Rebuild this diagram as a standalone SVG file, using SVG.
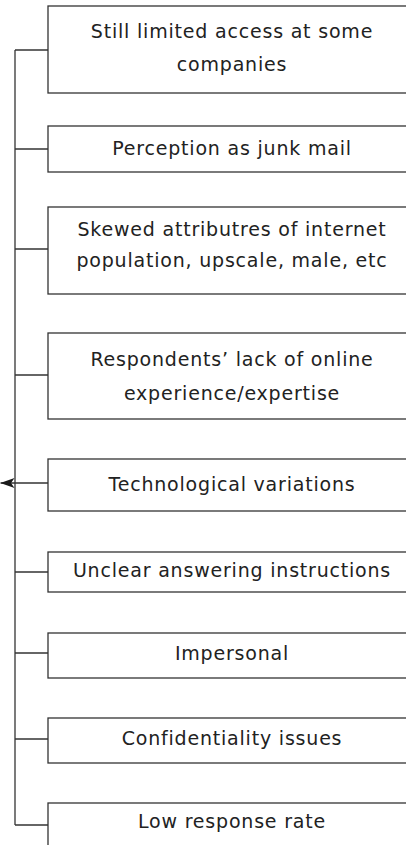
<svg xmlns="http://www.w3.org/2000/svg" width="406" height="845" viewBox="0 0 406 845">
  <style>
    .box rect { fill: #ffffff; stroke: #333333; stroke-width: 1.3; }
    .box text { font-family: "DejaVu Sans", "Verdana", sans-serif; font-size: 19px; letter-spacing: 0.8px; fill: #222222; text-anchor: middle; }
    .link { fill: none; stroke: #333333; stroke-width: 1.3; }
  </style>
  <defs>
    <marker id="arrowhead" viewBox="0 0 14 10" refX="14" refY="5" markerWidth="14" markerHeight="10" markerUnits="userSpaceOnUse" orient="auto">
      <path d="M0,0 L14,5 L0,10 L3.5,5 Z" fill="#1a1a1a"/>
    </marker>
  </defs>

  <!-- connectors: vertical trunk with branches into each box -->
  <g id="connectors">
    <line class="link" x1="15" y1="50" x2="15" y2="825"/>
    <line class="link" x1="15" y1="50" x2="48" y2="50"/>
    <line class="link" x1="15" y1="149" x2="48" y2="149"/>
    <line class="link" x1="15" y1="249" x2="48" y2="249"/>
    <line class="link" x1="15" y1="375" x2="48" y2="375"/>
    <line class="link" x1="48" y1="483" x2="0.5" y2="483" marker-end="url(#arrowhead)"/>
    <line class="link" x1="15" y1="572" x2="48" y2="572"/>
    <line class="link" x1="15" y1="653" x2="48" y2="653"/>
    <line class="link" x1="15" y1="739" x2="48" y2="739"/>
    <line class="link" x1="15" y1="825" x2="48" y2="825"/>
  </g>

  <g id="limited-access" class="box">
    <rect x="48" y="6" width="372" height="87"/>
    <text x="232" y="38">Still limited access at some</text>
    <text x="232" y="71">companies</text>
  </g>
  <g id="junk-mail" class="box">
    <rect x="48" y="126" width="372" height="46"/>
    <text x="232" y="155">Perception as junk mail</text>
  </g>
  <g id="skewed-attributes" class="box">
    <rect x="48" y="207" width="372" height="87"/>
    <text x="232" y="236">Skewed attributres of internet</text>
    <text x="232" y="267">population, upscale, male, etc</text>
  </g>
  <g id="lack-of-experience" class="box">
    <rect x="48" y="333" width="372" height="86"/>
    <text x="232" y="366">Respondents’ lack of online</text>
    <text x="232" y="400">experience/expertise</text>
  </g>
  <g id="technological-variations" class="box">
    <rect x="48" y="459" width="372" height="52"/>
    <text x="232" y="491">Technological variations</text>
  </g>
  <g id="unclear-instructions" class="box">
    <rect x="48" y="552" width="372" height="40"/>
    <text x="232" y="577">Unclear answering instructions</text>
  </g>
  <g id="impersonal" class="box">
    <rect x="48" y="633" width="372" height="45"/>
    <text x="232" y="660">Impersonal</text>
  </g>
  <g id="confidentiality" class="box">
    <rect x="48" y="718" width="372" height="45"/>
    <text x="232" y="745">Confidentiality issues</text>
  </g>
  <g id="low-response-rate" class="box">
    <rect x="48" y="803" width="372" height="50"/>
    <text x="232" y="828">Low response rate</text>
  </g>
</svg>
